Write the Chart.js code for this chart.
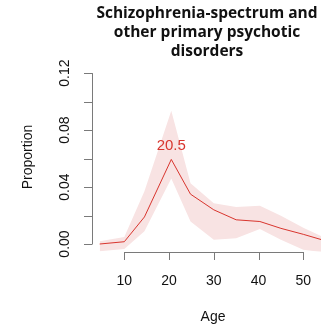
<!DOCTYPE html>
<html>
<head>
<meta charset="utf-8">
<script src="https://cdn.jsdelivr.net/npm/chart.js@4"></script>
<style>
  html, body { margin: 0; padding: 0; background: #fff; }
  #wrap { width: 321px; height: 327px; }
</style>
</head>
<body>
<div id="wrap"><canvas id="chart" width="321" height="327"></canvas></div>
<script>
// values
const ages = [4.5, 10, 14.5, 20.5, 24.8, 30, 35, 40.3, 45, 50, 55];
const proportion = [0.000, 0.0016, 0.019, 0.0594, 0.035, 0.024, 0.017, 0.0158, 0.011, 0.0068, 0.0022];
const upperCI = [0.002, 0.005, 0.037, 0.0936, 0.0426, 0.0286, 0.026, 0.0268, 0.0198, 0.0114, 0.004];
const lowerCI = [-0.005, -0.0035, 0.009, 0.046, 0.0158, 0.003, 0.004, 0.0105, 0.003, -0.004, -0.006];
const xTicks = [10, 20, 30, 40, 50];
const yTicks = [0, 0.02, 0.04, 0.06, 0.08, 0.10, 0.12];
const yLabels = ['0.00', '', '0.04', '', '0.08', '', '0.12'];
const titleLines = ['Schizophrenia-spectrum and', 'other primary psychotic', 'disorders'];
const peakLabel = '20.5';

const toPoints = vals => ages.map((a, i) => ({ x: a, y: vals[i] }));

const axisColor = '#7a7a7a';
const redLine = '#d8352e';

// R-style axes, labels and title drawn through the chart's scales
const rAxes = {
    id: 'rAxes',
    afterDraw(chart) {
        const ctx = chart.ctx;
        const xs = chart.scales.x, ys = chart.scales.y;
        const axX = 92, axY = 252;
        ctx.save();
        ctx.strokeStyle = axisColor;
        ctx.lineWidth = 1;

        // y axis
        ctx.beginPath();
        ctx.moveTo(axX + 0.5, ys.getPixelForValue(yTicks[0]));
        ctx.lineTo(axX + 0.5, ys.getPixelForValue(yTicks[yTicks.length - 1]));
        yTicks.forEach(v => {
            const py = Math.round(ys.getPixelForValue(v)) + 0.5;
            ctx.moveTo(axX + 0.5, py);
            ctx.lineTo(axX - 8, py);
        });
        // x axis
        ctx.moveTo(xs.getPixelForValue(xTicks[0]), axY + 0.5);
        ctx.lineTo(xs.getPixelForValue(xTicks[xTicks.length - 1]), axY + 0.5);
        xTicks.forEach(v => {
            const px = Math.round(xs.getPixelForValue(v)) + 0.5;
            ctx.moveTo(px, axY);
            ctx.lineTo(px, axY + 8);
        });
        ctx.stroke();

        ctx.fillStyle = '#111';
        ctx.font = '14px "Liberation Sans", Arial, sans-serif';
        ctx.textAlign = 'center';
        ctx.textBaseline = 'middle';
        xTicks.forEach(v => ctx.fillText(String(v), xs.getPixelForValue(v), 281));
        ctx.fillText('Age', 213, 317);

        yTicks.forEach((v, i) => {
            if (!yLabels[i]) return;
            ctx.save();
            ctx.translate(65, ys.getPixelForValue(v));
            ctx.rotate(-Math.PI / 2);
            ctx.fillText(yLabels[i], 0, 0);
            ctx.restore();
        });
        ctx.save();
        ctx.translate(28, 157);
        ctx.rotate(-Math.PI / 2);
        ctx.fillText('Proportion', 0, 0);
        ctx.restore();

        // peak label
        const pk = proportion.indexOf(Math.max(...proportion));
        ctx.fillStyle = redLine;
        ctx.font = '15px "Liberation Sans", Arial, sans-serif';
        ctx.fillText(peakLabel, xs.getPixelForValue(ages[pk]), 146);

        // title
        ctx.fillStyle = '#111';
        ctx.font = 'bold 15.5px "Open Sans", sans-serif';
        titleLines.forEach((t, i) => ctx.fillText(t, 207, 14 + i * 18.7));
        ctx.restore();
    }
};

new Chart(document.getElementById('chart'), {
    type: 'line',
    data: {
        datasets: [
            {
                // the proportion line, first so it sits above the band
                data: toPoints(proportion),
                borderColor: redLine,
                borderWidth: 1,
                pointRadius: 0,
                fill: false
            },
            {
                data: toPoints(upperCI),
                borderWidth: 0,
                pointRadius: 0,
                backgroundColor: '#f8e3e3',
                fill: '+1'
            },
            {
                data: toPoints(lowerCI),
                borderWidth: 0,
                pointRadius: 0,
                fill: false
            }
        ]
    },
    options: {
        responsive: false,
        animation: false,
        layout: { padding: { left: 92, right: 0, top: 66, bottom: 75.3 } },
        plugins: { legend: { display: false }, tooltip: { enabled: false } },
        scales: {
            x: { type: 'linear', min: 2.78, max: 53.96, display: false },
            y: { type: 'linear', min: -0.0054, max: 0.125, display: false }
        }
    },
    plugins: [rAxes]
});
</script>
</body>
</html>
